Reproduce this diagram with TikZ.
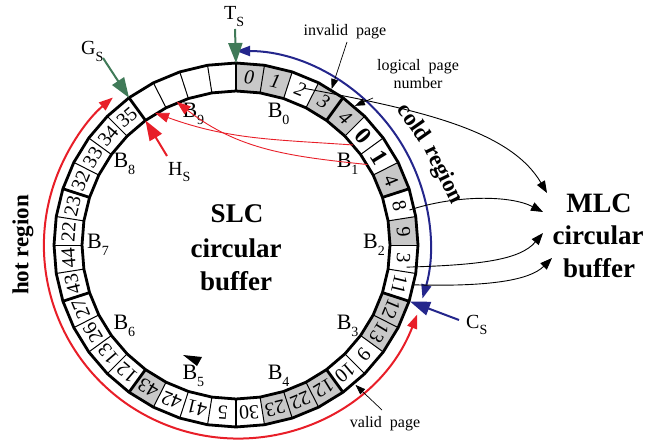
\documentclass[tikz,border=0pt]{standalone}
\usepackage{fontspec}
\setmainfont{Liberation Serif}
\usetikzlibrary{arrows.meta,calc}
\newcommand\fsz[1]{\fontsize{#1}{#1}\selectfont}
\newcommand\mysub[1]{\raisebox{-0.32em}{\fsz{14}#1}}
\definecolor{cellgrey}{RGB}{200,200,200}
\definecolor{tgreen}{RGB}{64,122,88}
\definecolor{tred}{RGB}{232,30,40}
\definecolor{tblue}{RGB}{36,38,140}
\begin{document}
\begin{tikzpicture}[x=1pt,y=1pt,
  cellnum/.style={font=\fsz{20}, inner sep=0pt},
  blabel/.style={font=\fsz{22}, inner sep=0pt},
  bigtext/.style={font=\fsz{27}\bfseries, inner sep=0pt, anchor=base},
  regiontext/.style={font=\fsz{23}\bfseries, inner sep=0pt},
  smalltext/.style={font=\fsz{16}, inner sep=0pt},
  ptrlabel/.style={font=\fsz{20}, inner sep=0pt, anchor=base west},
  greenptr/.style={draw=tgreen, line width=2pt, -{Triangle[length=20pt,width=14pt]}},
  redptr/.style={draw=tred, line width=2pt, -{Triangle[length=20pt,width=14pt]}},
  blueptr/.style={draw=tblue, line width=2pt, -{Triangle[length=20pt,width=14pt]}},
  thinred/.style={draw=tred, line width=0.9pt, -{Triangle[length=14pt,width=10pt]}},
  callout/.style={draw=black, line width=0.7pt, -{Triangle[length=10pt,width=7pt]}},
  mlcarrow/.style={draw=black, line width=0.9pt, -{Triangle[length=12pt,width=9pt]}},
  regionarc/.style={line width=2pt, {Triangle[length=14pt,width=10pt]}-{Triangle[length=14pt,width=10pt]}},
  thinsep/.style={line width=1pt},
  thicksep/.style={line width=2.8pt},
  ringline/.style={line width=2.8pt, line join=round},
]
\useasboundingbox (0,0) rectangle (667,440);

\begin{scope}[shift={(236,195)}]
  \foreach \k/\t/\f in {0/{\itshape 0}/cellgrey, 1/{\itshape 1}/cellgrey, 2/{\itshape 2}/white,
    3/{\itshape 3}/cellgrey, 4/{\itshape 4}/cellgrey, 5/{\fsz{24}\bfseries 0}/white,
    6/{\fsz{24}\bfseries 1}/white, 7/4/cellgrey, 8/8/white, 9/9/cellgrey, 10/3/white,
    11/11/white, 12/12/cellgrey, 13/13/cellgrey, 14/9/white, 15/10/white, 16/12/cellgrey,
    17/22/cellgrey, 18/23/cellgrey, 19/30/white, 20/5/white, 21/41/white, 22/42/white,
    23/43/cellgrey, 24/12/white, 25/13/white, 26/26/white, 27/27/white, 28/43/white,
    29/44/white, 30/22/white, 31/23/white, 32/32/white, 33/33/white, 34/34/white,
    35/35/white, 36//white, 37//white, 38//white, 39//white} {
    \pgfmathsetmacro\aa{90-9*\k}
    \pgfmathsetmacro\ab{90-9*\k-9}
    \pgfmathsetmacro\am{90-9*\k-4.5}
    \fill[\f] (\aa:154) -- (\aa:182) -- (\ab:182) -- (\ab:154) -- cycle;
    \draw[thinsep] (\aa:154) -- (\aa:182);
    \node[cellnum, rotate=\am-90] (c\k) at (\am:168) {\t};
  }
  \foreach \b in {0,...,9} {
    \draw[thicksep] ({90-36*\b}:154) -- ({90-36*\b}:182);
    \node[blabel] (b\b) at ({72-36*\b}:138) {B\mysub{\b}};
  }
  \draw[ringline] (90:182) \foreach \i in {1,...,39} { -- ({90-9*\i}:182) } -- cycle;
  \draw[ringline] (90:154) \foreach \i in {1,...,39} { -- ({90-9*\i}:154) } -- cycle;
  % named ring points
  \coordinate (rT) at (90:182);
  \coordinate (rG) at (126:182);
  \coordinate (rH) at (126:154);
  \coordinate (rC) at (-18:183);
  \coordinate (rInv) at (58.5:183);
  \coordinate (rLog) at (49.5:183);
  \coordinate (rVal) at (-49.5:184);
  \coordinate (iA) at (121.5:155);
  \coordinate (iB) at (112.5:155);
  \coordinate (p0) at (40.5:154);
  \coordinate (p1) at (31.5:154);
  \coordinate (s2) at (66.3:171);
  \coordinate (s8) at (11.4:177);
  \coordinate (s3) at (-7.4:172);
  \coordinate (s11) at (-12.7:181);
  % region arcs
  \draw[regionarc, tblue] (90:194) arc[start angle=90, end angle=-16, radius=194];
  \draw[regionarc, tred] (-21:194) arc[start angle=-21, end angle=-230, radius=193];
\end{scope}

% central labels
\node[bigtext] (slc1) at (237,218) {SLC};
\node[bigtext] (slc2) at (236,183) {circular};
\node[bigtext] (slc3) at (236,150) {buffer};
\node[bigtext, font=\fsz{28}\bfseries] (mlc1) at (599,228) {MLC};
\node[bigtext] (mlc2) at (598,196) {circular};
\node[bigtext] (mlc3) at (599,163) {buffer};

% region texts
\node[regiontext, rotate=90] (hot) at (23,195) {hot region};
\node[regiontext, rotate=-55] (cold1) at (415,318) {cold};
\node[regiontext, rotate=-64] (cold2) at (443,265) {region};

% pointer labels
\node[ptrlabel] (Ts) at (224,420) {T\mysub{S}};
\node[ptrlabel] (Gs) at (81,385) {G\mysub{S}};
\node[ptrlabel] (Hs) at (168,265) {H\mysub{S}};
\node[ptrlabel] (Cs) at (466,112) {C\mysub{S}};
\coordinate (TsA) at (235,411);
\coordinate (GsA) at (103,382);
\coordinate (HsA) at (167,284);
\coordinate (CsA) at (459,120);
\draw[greenptr] (TsA) -- (rT);
\draw[greenptr] (GsA) -- (rG);
\draw[redptr] (HsA) -- (rH);
\draw[blueptr] (CsA) -- (rC);

% moved pages
\draw[thinred] (p0) to[out=176, in=-20] (iA);
\draw[thinred] (p1) to[out=174, in=-38] (iB);

% callouts
\node[smalltext, anchor=base] (inv) at (345,404) {invalid\ \ page};
\node[smalltext, align=center] (log) at (418,366) {logical\ \ page\\[2pt]number};
\node[smalltext, anchor=base] (val) at (385,13) {valid\ \ page};
\coordinate (invA) at (347,398);
\coordinate (logA) at (373,342);
\coordinate (valA) at (382,30);
\draw[callout] (invA) -- (rInv);
\draw[callout] (logA) -- (rLog);
\draw[callout] (valA) -- (rVal);

% migrations to MLC
\coordinate (t2) at (547,247);
\coordinate (t8) at (543,228);
\coordinate (t3) at (543,207);
\coordinate (t11) at (552,182);
\draw[mlcarrow] (s2) .. controls (420,330) and (510,310) .. (t2);
\draw[mlcarrow] (s8) .. controls (455,245) and (510,245) .. (t8);
\draw[mlcarrow] (s3) .. controls (480,175) and (520,180) .. (t3);
\draw[mlcarrow] (s11) .. controls (490,153) and (530,160) .. (t11);

% stray arrowhead
\fill (183,85) -- (202,83) -- (197,74) -- cycle;
\end{tikzpicture}
\end{document}
